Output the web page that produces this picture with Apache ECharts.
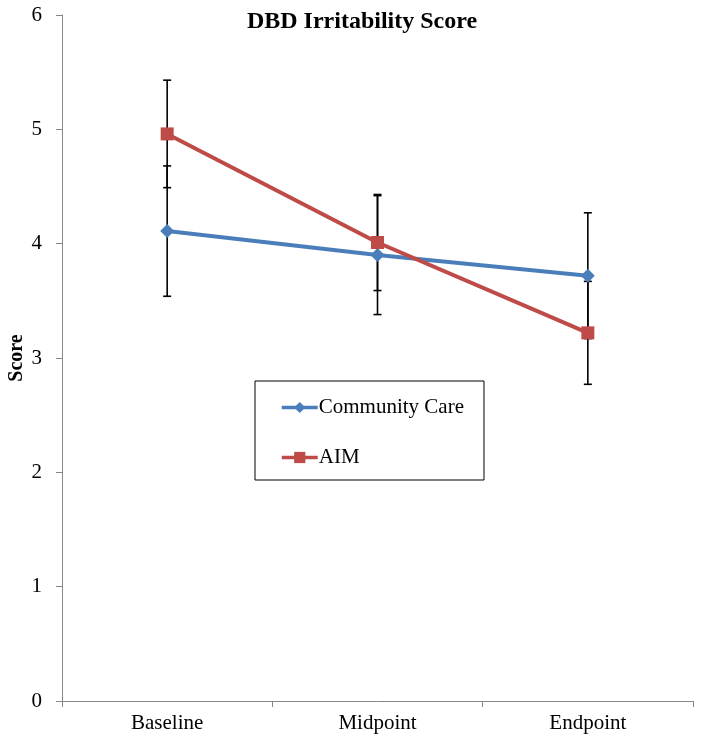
<!DOCTYPE html>
<html><head><meta charset="utf-8">
<script src="https://cdn.jsdelivr.net/npm/echarts@6/dist/echarts.min.js"></script>
<style>html,body{margin:0;padding:0;background:#fff}#c{width:704px;height:744px}</style>
</head><body><div id="c"></div>
<script>
const categories = ['Baseline', 'Midpoint', 'Endpoint'];
const ccMean = [4.11, 3.90, 3.72];
const ccErr = [0.57, 0.52, 0.55];
const aimMean = [4.96, 4.01, 3.22];
const aimErr = [0.47, 0.42, 0.45];
const yTicks = [0, 1, 2, 3, 4, 5, 6];

const FONT = 'Liberation Serif';
function errData(mean, err) {
  return mean.map((m, i) => [i, +(m - err[i]).toFixed(2), +(m + err[i]).toFixed(2)]);
}
function errSeries(name, data) {
  return {
    type: 'custom', name: name + ' err', z: 1, silent: true,
    renderItem: function (params, api) {
      const x = api.value(0);
      const lo = api.coord([x, api.value(1)]);
      const hi = api.coord([x, api.value(2)]);
      const hw = 4;
      const st = { stroke: '#000', lineWidth: 1.6 };
      return { type: 'group', children: [
        { type: 'line', shape: { x1: lo[0], y1: lo[1], x2: hi[0], y2: hi[1] }, style: st },
        { type: 'line', shape: { x1: lo[0] - hw, y1: lo[1], x2: lo[0] + hw, y2: lo[1] }, style: st },
        { type: 'line', shape: { x1: hi[0] - hw, y1: hi[1], x2: hi[0] + hw, y2: hi[1] }, style: st }
      ]};
    },
    encode: { x: 0, y: [1, 2] },
    data: data
  };
}
const chart = echarts.init(document.getElementById('c'), null, { renderer: 'canvas' });
chart.setOption({
  animation: false,
  backgroundColor: '#fff',
  title: {
    text: 'DBD Irritability Score', left: 357, top: 5, textAlign: 'center',
    textStyle: { fontFamily: FONT, fontWeight: 'bold', fontSize: 24, color: '#000' }
  },
  legend: {
    data: ['Community Care', 'AIM'],
    orient: 'vertical', left: 255, top: 381,
    borderColor: '#000', borderWidth: 1,
    padding: [15, 20, 11, 25],
    itemWidth: 36, itemHeight: 14, itemGap: 27,
    lineStyle: { width: 3.5 },
    textStyle: { fontFamily: FONT, fontSize: 21, color: '#000', lineHeight: 23, padding: [0, 0, 0, -4] }
  },
  grid: { left: 62, right: 11, top: 15, bottom: 43, containLabel: false, outerBoundsMode: 'none' },
  xAxis: {
    type: 'category', data: categories, boundaryGap: true,
    axisLine: { lineStyle: { color: '#868686', width: 1 } },
    axisTick: { show: true, length: 6, lineStyle: { color: '#868686' } },
    axisLabel: { fontFamily: FONT, fontSize: 21, color: '#000', margin: 12 }
  },
  yAxis: {
    type: 'value', min: yTicks[0], max: yTicks[yTicks.length - 1], interval: 1,
    name: 'Score', nameLocation: 'middle', nameGap: 35, nameMoveOverlap: false,
    nameTextStyle: { fontFamily: FONT, fontWeight: 'bold', fontSize: 20, color: '#000' },
    axisLine: { show: true, lineStyle: { color: '#868686', width: 1 } },
    axisTick: { show: true, length: 6, lineStyle: { color: '#868686' } },
    splitLine: { show: false },
    axisLabel: { fontFamily: FONT, fontSize: 21, color: '#000', margin: 20, padding: [4, 0, 0, 0] }
  },
  series: [
    errSeries('Community Care', errData(ccMean, ccErr)),
    errSeries('AIM', errData(aimMean, aimErr)),
    {
      name: 'Community Care', type: 'line', data: ccMean, z: 3,
      symbol: 'diamond', symbolSize: 14,
      lineStyle: { color: '#4A7EBB', width: 4 },
      itemStyle: { color: '#4A7EBB' }
    },
    {
      name: 'AIM', type: 'line', data: aimMean, z: 4,
      symbol: 'rect', symbolSize: 13,
      lineStyle: { color: '#BE4B48', width: 4 },
      itemStyle: { color: '#BE4B48' }
    }
  ]
});
</script></body></html>
